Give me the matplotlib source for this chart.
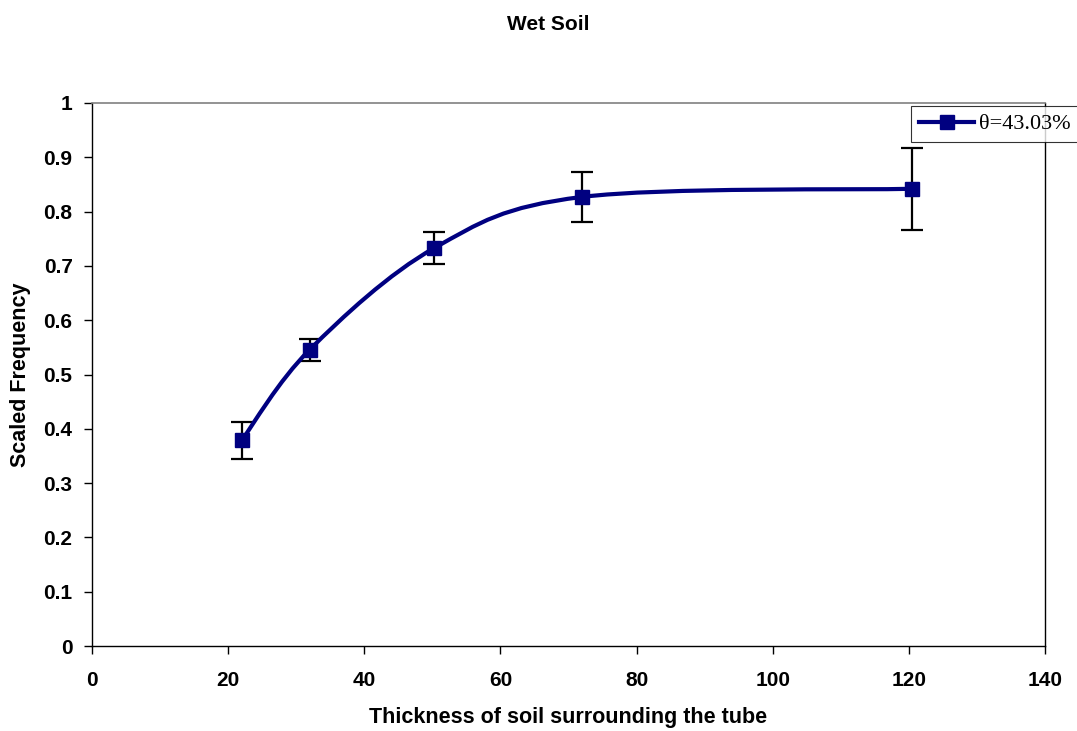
import matplotlib
matplotlib.use("Agg")
import matplotlib.pyplot as plt
from matplotlib.path import Path
from matplotlib.patches import PathPatch
from matplotlib.lines import Line2D

# data
thickness = [22, 32, 50.3, 72, 120.5]
freq = [0.379, 0.546, 0.733, 0.827, 0.842]
err_lo = [0.034, 0.021, 0.029, 0.047, 0.076]
err_hi = [0.033, 0.020, 0.030, 0.046, 0.076]
legend_label = "\u03b8=43.03%"

navy = "#000080"
plt.rcParams['font.family'] = ['Liberation Sans', 'DejaVu Sans']
plt.rcParams['font.weight'] = 'bold'

fig = plt.figure(figsize=(10.77, 7.31), dpi=100)
ax = fig.add_axes([92/1077, 85/731, 953/1077, 543/731])

# smoothed line (Excel style bezier between points)
n = len(thickness)
pts = list(zip(thickness, freq))
verts = [pts[0]]
codes = [Path.MOVETO]
for i in range(n - 1):
    p0 = pts[max(i - 1, 0)]
    p1 = pts[i]
    p2 = pts[i + 1]
    p3 = pts[min(i + 2, n - 1)]
    c1 = (p1[0] + (p2[0] - p0[0]) / 6, p1[1] + (p2[1] - p0[1]) / 6)
    c2 = (p2[0] - (p3[0] - p1[0]) / 6, p2[1] - (p3[1] - p1[1]) / 6)
    verts += [c1, c2, p2]
    codes += [Path.CURVE4] * 3
ax.add_patch(PathPatch(Path(verts, codes), fill=False, edgecolor=navy, lw=3, zorder=3))

ax.errorbar(thickness, freq, yerr=[err_lo, err_hi], fmt='none', ecolor='black',
            elinewidth=1.6, capsize=8, capthick=1.6, zorder=2)
ax.plot(thickness, freq, linestyle='none', marker='s', markersize=10,
        color=navy, zorder=4)

ax.set_xlim(0, 140)
ax.set_ylim(0, 1)
ax.set_xticks(range(0, 141, 20))
ax.set_yticks([i / 10 for i in range(11)])
ax.set_yticklabels(["0", "0.1", "0.2", "0.3", "0.4", "0.5", "0.6", "0.7", "0.8", "0.9", "1"])
ax.tick_params(direction='out', length=6, width=1, labelsize=15, color='black')
ax.tick_params(axis='x', pad=12)
ax.tick_params(axis='y', pad=8)
for s in ['left', 'bottom', 'right']:
    ax.spines[s].set_color('black')
    ax.spines[s].set_linewidth(1)
ax.spines['top'].set_color('#808080')
ax.spines['top'].set_linewidth(1.2)

ax.set_xlabel("Thickness of soil surrounding the tube", fontsize=15.5,
              fontweight='bold', va='center')
ax.set_ylabel("Scaled Frequency", fontsize=15.5, fontweight='bold', va='center')
ax.xaxis.set_label_coords(0.5, -0.131)
ax.yaxis.set_label_coords(-0.0755, 0.5)

fig.text(548/1077, 1 - 25/731, "Wet Soil", ha='center', va='center',
         fontsize=15, fontweight='bold')

handle = Line2D([], [], color=navy, lw=3, marker='s', markersize=10)
leg = fig.legend([handle], [legend_label], loc='upper left',
                 bbox_to_anchor=(911/1077, 1 - 106/731),
                 prop={'family': 'Liberation Serif', 'size': 16, 'weight': 'normal'},
                 frameon=True, fancybox=False, shadow=False, borderpad=0.35,
                 handlelength=2.5, handletextpad=0.2, borderaxespad=0)
leg.get_frame().set_edgecolor('black')
leg.get_frame().set_linewidth(0.8)

fig.savefig("out.png", dpi=100)
